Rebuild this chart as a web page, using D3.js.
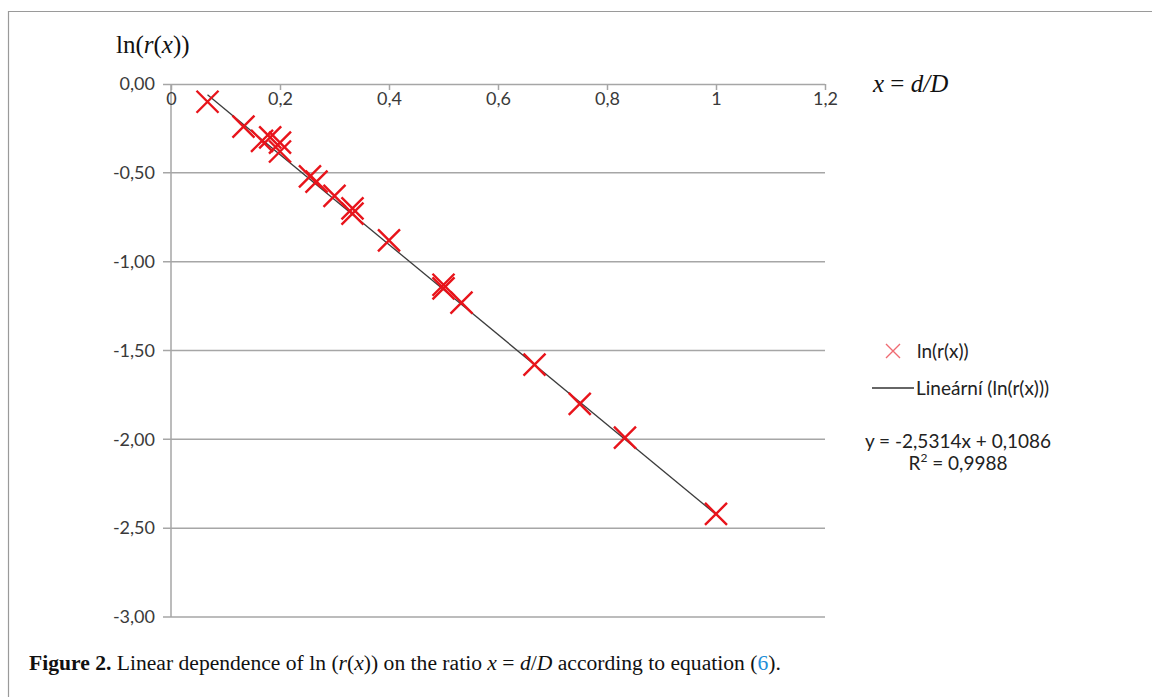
<!DOCTYPE html>
<html>
<head>
<meta charset="utf-8">
<script src="https://cdn.jsdelivr.net/npm/d3@7"></script>
<style>
  html, body { margin: 0; padding: 0; background: #fff; }
  svg { display: block; }
</style>
</head>
<body>
<svg id="chart" width="1152" height="697"></svg>
<script>
// ---- data ----
const xValues = [0.067, 0.133, 0.167, 0.182, 0.2, 0.2, 0.255, 0.267, 0.3, 0.333, 0.333, 0.4, 0.5, 0.5, 0.533, 0.667, 0.75, 0.833, 1.0];
const yValues = [-0.10, -0.24, -0.32, -0.30, -0.33, -0.38, -0.52, -0.55, -0.63, -0.70, -0.73, -0.88, -1.13, -1.15, -1.23, -1.58, -1.80, -1.99, -2.42];
const xTicks = [0, 0.2, 0.4, 0.6, 0.8, 1, 1.2];
const xTickLabels = ["0", "0,2", "0,4", "0,6", "0,8", "1", "1,2"];
const yTicks = [0, -0.5, -1, -1.5, -2, -2.5, -3];
const yTickLabels = ["0,00", "-0,50", "-1,00", "-1,50", "-2,00", "-2,50", "-3,00"];
const slope = -2.5314;
const intercept = 0.1086;
const r2Text = "0,9988";
const equationText = "y = -2,5314x + 0,1086";
const seriesName = "ln(r(x))";
const trendName = "Lineární (ln(r(x)))";

(function () {
// ---- layout ----
const svg = d3.select("#chart");
const pLeft = 171, pRight = 825, pTop = 84, pBottom = 617;
const x = d3.scaleLinear().domain([0, 1.2]).range([pLeft, pRight]);
const y = d3.scaleLinear().domain([0, -3]).range([pTop, pBottom]);
const gridColor = "#a6a6a6";
const sans = "Lato, 'Open Sans', sans-serif";
const serif = "'Liberation Serif', 'DejaVu Serif', serif";

// figure border (open at right/bottom)
svg.append("path")
  .attr("d", "M8.5,700 L8.5,11.5 L1152,11.5")
  .attr("fill", "none").attr("stroke", "#9a9a9a").attr("stroke-width", 1.2);

// horizontal gridlines (with left tick stubs)
svg.append("g").selectAll("line").data(yTicks.slice(1)).join("line")
  .attr("x1", pLeft - 8).attr("x2", pRight)
  .attr("y1", d => y(d)).attr("y2", d => y(d))
  .attr("stroke", gridColor).attr("stroke-width", 1.5);

// y axis line
svg.append("line").attr("x1", pLeft).attr("x2", pLeft).attr("y1", pTop).attr("y2", pBottom)
  .attr("stroke", gridColor).attr("stroke-width", 1.5);

// y tick labels
svg.append("g").selectAll("text").data(yTicks).join("text")
  .attr("x", pLeft - 16).attr("y", d => y(d)).attr("dy", "0.35em")
  .attr("text-anchor", "end").attr("font-family", sans).attr("font-size", 18)
  .attr("fill", "#3a3a3a")
  .text((d, i) => yTickLabels[i]);

// x axis at y = 0 using d3 axis, ticks downward
const xAxis = d3.axisBottom(x).tickValues(xTicks).tickSize(6).tickSizeOuter(0)
  .tickFormat((d, i) => xTickLabels[i]);
const gx = svg.append("g").attr("transform", `translate(0,${y(0)})`).call(xAxis);
gx.select(".domain").attr("stroke", gridColor).attr("stroke-width", 1.5)
  .attr("d", `M${pLeft - 8},0.5H${pRight}`);
gx.selectAll(".tick line").attr("stroke", gridColor).attr("stroke-width", 1.5);
gx.selectAll(".tick text").attr("font-family", sans).attr("font-size", 18)
  .attr("fill", "#3a3a3a").attr("y", 8);

// axis titles
const yTitle = svg.append("text").attr("x", 116).attr("y", 53)
  .attr("font-family", serif).attr("font-size", 25).attr("fill", "#111");
yTitle.append("tspan").text("ln(");
yTitle.append("tspan").attr("font-style", "italic").text("r");
yTitle.append("tspan").text("(");
yTitle.append("tspan").attr("font-style", "italic").text("x");
yTitle.append("tspan").text("))");

const xTitle = svg.append("text").attr("x", 873).attr("y", 92)
  .attr("font-family", serif).attr("font-size", 25).attr("fill", "#111");
xTitle.append("tspan").attr("font-style", "italic").text("x");
xTitle.append("tspan").text(" = ");
xTitle.append("tspan").attr("font-style", "italic").text("d/D");

// trend line
const xMin = d3.min(xValues), xMax = d3.max(xValues);
svg.append("line")
  .attr("x1", x(xMin)).attr("y1", y(slope * xMin + intercept))
  .attr("x2", x(xMax)).attr("y2", y(slope * xMax + intercept))
  .attr("stroke", "#3c3c3c").attr("stroke-width", 1.3);

// cross markers
const pts = xValues.map((v, i) => ({ x: v, y: yValues[i] }));
const s = 11;
svg.append("g").selectAll("path").data(pts).join("path")
  .attr("d", d => {
    const cx = x(d.x), cy = y(d.y);
    return `M${cx - s},${cy - s}L${cx + s},${cy + s}M${cx - s},${cy + s}L${cx + s},${cy - s}`;
  })
  .attr("stroke", "#e8141b").attr("stroke-width", 2.4).attr("fill", "none");

// legend
const lg = svg.append("g");
const ms = 7, lx = 893, ly = 351;
lg.append("path")
  .attr("d", `M${lx - ms},${ly - ms}L${lx + ms},${ly + ms}M${lx - ms},${ly + ms}L${lx + ms},${ly - ms}`)
  .attr("stroke", "#ef6b72").attr("stroke-width", 1.4);
lg.append("text").attr("x", 917).attr("y", ly).attr("dy", "0.35em")
  .attr("font-family", sans).attr("font-size", 19).attr("fill", "#222").text(seriesName);
lg.append("line").attr("x1", 872).attr("x2", 914).attr("y1", 388).attr("y2", 388)
  .attr("stroke", "#333").attr("stroke-width", 1.3);
lg.append("text").attr("x", 916).attr("y", 388).attr("dy", "0.35em")
  .attr("font-family", sans).attr("font-size", 19).attr("fill", "#222").text(trendName);

// equation
svg.append("text").attr("x", 958).attr("y", 441).attr("dy", "0.35em")
  .attr("text-anchor", "middle").attr("font-family", sans).attr("font-size", 19)
  .attr("fill", "#222").text(equationText);
const r2 = svg.append("text").attr("x", 958).attr("y", 463).attr("dy", "0.35em")
  .attr("text-anchor", "middle").attr("font-family", sans).attr("font-size", 19).attr("fill", "#222");
r2.append("tspan").text("R");
r2.append("tspan").attr("font-size", 12).attr("dy", "-0.6em").text("2");
r2.append("tspan").attr("dy", "0.4em").text(" = " + r2Text);

// caption
const cap = svg.append("text").attr("x", 29).attr("y", 670)
  .attr("font-family", serif).attr("font-size", 21.6).attr("fill", "#111");
cap.append("tspan").attr("font-weight", "bold").text("Figure 2.");
cap.append("tspan").text(" Linear dependence of ln (");
cap.append("tspan").attr("font-style", "italic").text("r");
cap.append("tspan").text("(");
cap.append("tspan").attr("font-style", "italic").text("x");
cap.append("tspan").text(")) on the ratio ");
cap.append("tspan").attr("font-style", "italic").text("x");
cap.append("tspan").text(" = ");
cap.append("tspan").attr("font-style", "italic").text("d");
cap.append("tspan").text("/");
cap.append("tspan").attr("font-style", "italic").text("D");
cap.append("tspan").text(" according to equation (");
cap.append("tspan").attr("fill", "#1f8fd8").text("6");
cap.append("tspan").text(").");
})();
</script>
</body>
</html>
